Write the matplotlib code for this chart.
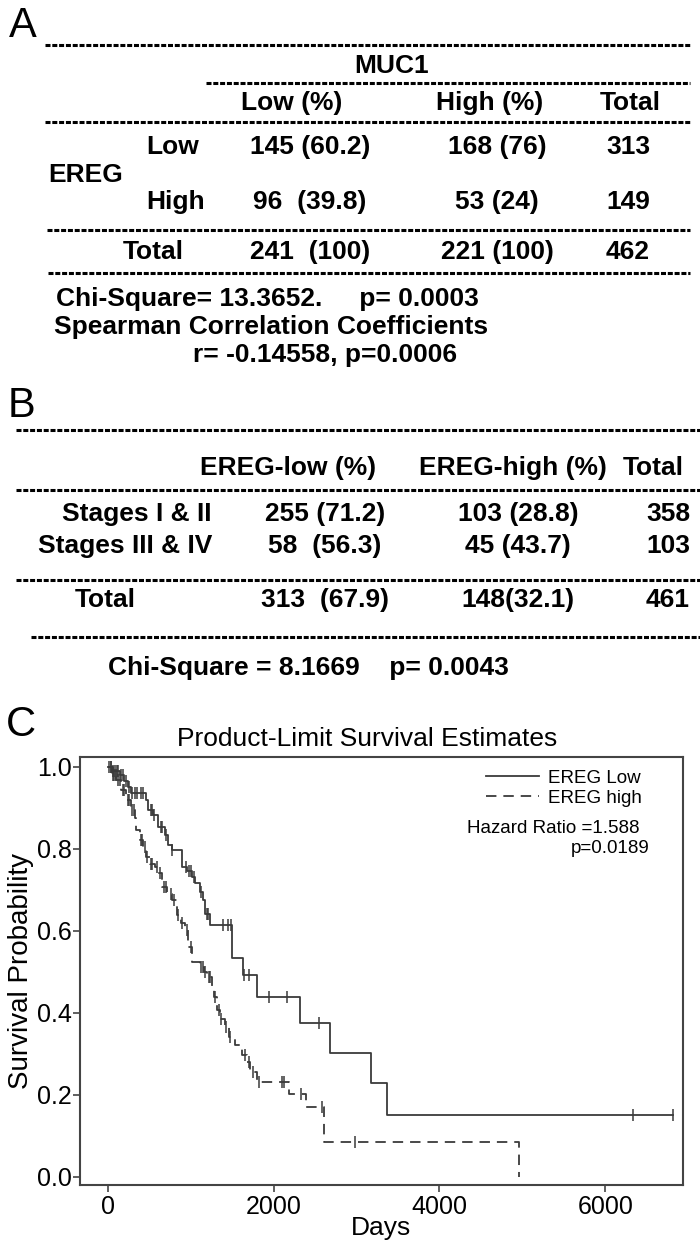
import numpy as np
import matplotlib
matplotlib.use('Agg')
from matplotlib import pyplot

# ---- table A: EREG vs MUC1 ----
muc1_cols = ['Low (%)', 'High (%)', 'Total']
ereg_rows = ['Low', 'High']
table_a = [['145 (60.2)', '168 (76)', '313'],
           ['96  (39.8)', '53 (24)', '149']]
table_a_total = ['241  (100)', '221 (100)', '462']
stats_a = ['Chi-Square= 13.3652.     p= 0.0003',
           'Spearman Correlation Coefficients',
           'r= -0.14558, p=0.0006']

# ---- table B: EREG vs stage ----
stage_cols = ['EREG-low (%)', 'EREG-high (%)', 'Total']
stage_rows = ['Stages I & II', 'Stages III & IV']
table_b = [['255 (71.2)', '103 (28.8)', '358'],
           ['58  (56.3)', '45 (43.7)', '103']]
table_b_total = ['313  (67.9)', '148(32.1)', '461']
stats_b = 'Chi-Square = 8.1669    p= 0.0043'

# ---- panel C: Kaplan-Meier steps (days, survival after step) ----
low_t = [0, 60, 145, 200, 246, 287, 469, 489, 547, 610, 691, 731, 772, 901, 960,
         1014, 1055, 1115, 1150, 1176, 1236, 1500, 1632, 1800, 2325, 2683, 3178, 3362]
low_s = [1.0, 0.99, 0.98, 0.965, 0.951, 0.935, 0.919, 0.894, 0.882, 0.854, 0.833, 0.809,
         0.797, 0.756, 0.745, 0.732, 0.716, 0.695, 0.675, 0.642, 0.614, 0.533, 0.492,
         0.439, 0.376, 0.301, 0.229, 0.151]
low_end = 6819
low_cens = [40, 70, 90, 110, 130, 160, 180, 220, 260, 300, 330, 360, 400, 430, 520, 540,
            560, 640, 660, 700, 780, 940, 980, 1000, 1040, 1130, 1200, 1215, 1390, 1455,
            1490, 1640, 1700, 1943, 2158, 2549, 6334, 6819]

high_t = [0, 50, 105, 166, 226, 287, 327, 347, 388, 428, 469, 509, 570, 610, 651, 711,
          772, 833, 880, 930, 974, 1014, 1115, 1160, 1196, 1257, 1277, 1317, 1358, 1418,
          1459, 1535, 1616, 1681, 1721, 1802, 2186, 2390, 2608, 4959]
high_s = [1.0, 0.98, 0.967, 0.943, 0.919, 0.894, 0.874, 0.846, 0.821, 0.805, 0.78, 0.764,
          0.756, 0.74, 0.707, 0.691, 0.675, 0.638, 0.62, 0.602, 0.561, 0.524, 0.512, 0.5,
          0.488, 0.463, 0.439, 0.407, 0.386, 0.366, 0.341, 0.321, 0.297, 0.280, 0.256,
          0.232, 0.203, 0.171, 0.085, 0.0]
high_cens = [20, 40, 60, 80, 100, 130, 150, 180, 200, 240, 260, 300, 320, 400, 420, 450,
             480, 520, 540, 600, 630, 680, 700, 760, 800, 850, 900, 960, 1000, 1130, 1150,
             1180, 1220, 1240, 1300, 1340, 1370, 1430, 1480, 1660, 1700, 1750, 1830, 2100,
             2130, 2327, 2590, 2982]

x_ticks = [0, 2000, 4000, 6000]
y_ticks = [0.0, 0.2, 0.4, 0.6, 0.8, 1.0]

pyplot.rcParams['font.family'] = ['Liberation Sans', 'DejaVu Sans']
pyplot.rcParams['lines.scale_dashes'] = False

W, H = 700, 1246
fig = pyplot.figure(figsize=(W / 100, H / 100), dpi=100)

# overlay in pixel coordinates for the two tables
bg = fig.add_axes([0, 0, 1, 1])
bg.set_xlim(0, W)
bg.set_ylim(H, 0)
bg.set_axis_off()

TFS = 19
bold = dict(fontsize=TFS, fontweight='bold', va='baseline')


def rule(y, x0, x1=690):
    bg.plot([x0, x1], [y, y], color='black', lw=2.2, linestyle=(0, (3.6, 1.3)),
            solid_capstyle='butt', dash_capstyle='butt')


# panel letters
bg.text(9, 37, 'A', fontsize=30, va='baseline')
bg.text(8, 417, 'B', fontsize=30, va='baseline')
bg.text(6, 736, 'C', fontsize=30, va='baseline')

# ---- table A ----
a_cols = [310, 497, 628]
a_head = [292, 490, 630]
rule(45, 45)
bg.text(392, 73, 'MUC1', ha='center', **bold)
rule(83, 206)
for x, lab in zip(a_head, muc1_cols):
    bg.text(x, 110, lab, ha='center', **bold)
rule(122, 45)
for y, lab, row in zip([154, 209], ereg_rows, table_a):
    bg.text(146, y, lab, ha='left', **bold)
    for x, cell in zip(a_cols, row):
        bg.text(x, y, cell, ha='center', **bold)
bg.text(48, 182, 'EREG', ha='left', **bold)
rule(230, 47)
bg.text(123, 259, 'Total', ha='left', **bold)
for x, cell in zip(a_cols, table_a_total):
    bg.text(x, 259, cell, ha='center', **bold)
rule(273, 48)
bg.text(56, 306, stats_a[0], ha='left', **bold)
bg.text(54, 334, stats_a[1], ha='left', **bold)
bg.text(193, 362, stats_a[2], ha='left', **bold)

# ---- table B ----
b_cols = [325, 518, 668]
b_head = [288, 513, 653]
rule(430, 16, 700)
for x, lab in zip(b_head, stage_cols):
    bg.text(x, 475, lab, ha='center', **bold)
rule(490, 16, 700)
for y, lab, row in zip([521, 553], stage_rows, table_b):
    bg.text(212, y, lab, ha='right', **bold)
    for x, cell in zip(b_cols, row):
        bg.text(x, y, cell, ha='center', **bold)
rule(580, 16, 700)
bg.text(105, 607, 'Total', ha='center', **bold)
for x, cell in zip(b_cols, table_b_total):
    bg.text(x, 607, cell, ha='center', **bold)
rule(637, 31, 700)
bg.text(108, 675, stats_b, ha='left', **bold)

# ---- panel C: survival curves ----
left, right, top, bottom = 79.8, 682.5, 757, 1185
ax = fig.add_axes([left / W, 1 - bottom / H, (right - left) / W, (bottom - top) / H])
lc = '#3a3a3a'


def censor_y(t, s, c):
    idx = np.searchsorted(t, c, side='right') - 1
    return np.asarray(s)[idx]


lt = np.array(low_t + [low_end])
ls = np.array(low_s + [low_s[-1]])
ax.step(lt, ls, where='post', color=lc, lw=1.3, label='EREG Low')
ax.plot(low_cens, censor_y(lt, ls, low_cens), linestyle='none', marker='|',
        ms=9, mew=1.1, color=lc)

ht = np.array(high_t)
hs = np.array(high_s)
ax.step(ht, hs, where='post', color=lc, lw=1.3, linestyle=(0, (7.5, 5)),
        label='EREG high')
ax.plot(high_cens, censor_y(ht, hs, high_cens), linestyle='none', marker='|',
        ms=9, mew=1.1, color=lc)

ax.set_xlim(-335, 6930)
ax.set_ylim(-0.02, 1.024)
ax.set_xticks(x_ticks)
ax.set_yticks(y_ticks)
ax.set_yticklabels(['%.1f' % v for v in y_ticks])
for sp in ax.spines.values():
    sp.set_linewidth(1.5)
    sp.set_color('#444444')
ax.tick_params(direction='out', length=5, width=1.2, color='#444444',
               labelsize=18, pad=2)
ax.tick_params(axis='y', pad=1)
ax.set_xlabel('Days', fontsize=19, labelpad=-2)
ax.set_ylabel('Survival Probability', fontsize=20, labelpad=2)
ax.set_title('Product-Limit Survival Estimates', fontsize=19, pad=8, x=0.4765)

ax.legend(loc='upper right', bbox_to_anchor=(0.948, 0.992), frameon=False,
          fontsize=13.5, handlelength=2.8, handletextpad=0.5, borderpad=0,
          labelspacing=0.15)
ax.text(0.928, 0.834, 'Hazard Ratio =1.588', transform=ax.transAxes, ha='right',
        va='center', fontsize=13.5)
ax.text(0.946, 0.786, 'p=0.0189', transform=ax.transAxes, ha='right',
        va='center', fontsize=13.5)

fig.savefig('out.png', dpi=100)
